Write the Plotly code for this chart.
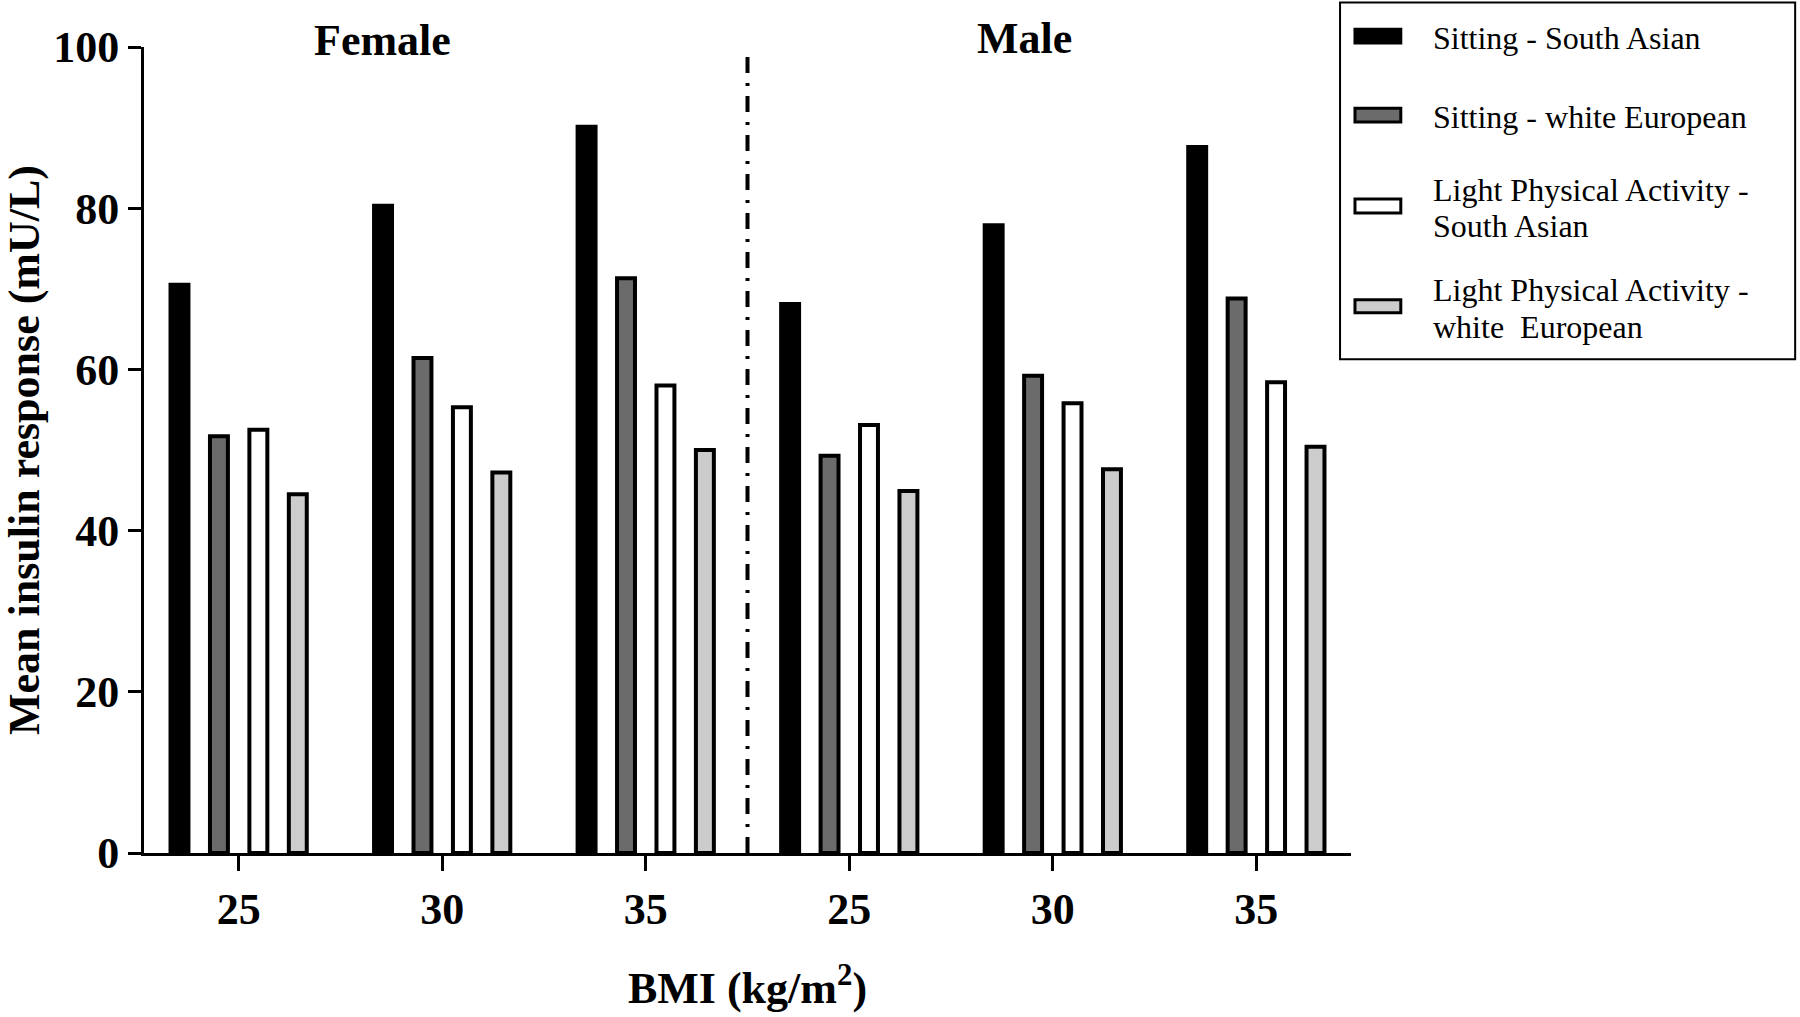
import plotly.graph_objects as go

# ---- data ----
bmi_labels = ["25", "30", "35", "25", "30", "35"]
sex_groups = ["Female", "Male"]
series_names = [
    "Sitting - South Asian",
    "Sitting - white European",
    "Light Physical Activity -<br>South Asian",
    "Light Physical Activity -<br>white  European",
]
sitting_south_asian = [70.5, 80.3, 90.1, 68.1, 77.9, 87.6]
sitting_white_european = [51.7, 61.4, 71.3, 49.3, 59.2, 68.8]
lpa_south_asian = [52.5, 55.3, 58.0, 53.1, 55.8, 58.4]
lpa_white_european = [44.5, 47.2, 50.0, 44.9, 47.6, 50.4]

series_values = [sitting_south_asian, sitting_white_european, lpa_south_asian, lpa_white_european]
fill_colors = ["#000000", "#6b6b6b", "#ffffff", "#cccccc"]

FONT = "Liberation Serif"
W, H = 1800, 1017
# plot area in page pixels
L, R_EDGE, T, B_EDGE = 139, 1351, 47, 863

x_pos = list(range(len(bmi_labels)))

fig = go.Figure()
for name, vals, col in zip(series_names, series_values, fill_colors):
    fig.add_trace(go.Bar(
        x=x_pos, y=vals, name=name.replace("<br>", " "),
        marker=dict(color=col, line=dict(color="#000000", width=4)),
        showlegend=False,
    ))

# divider between sexes
fig.add_shape(type="line", xref="x", yref="y", x0=2.5, x1=2.5, y0=0, y1=100,
              line=dict(color="#000000", width=4, dash="16px,10px,3px,10px"))

def px_x(p):
    return (p - L) / (R_EDGE - L)

def px_y(p):
    return (B_EDGE - p) / (B_EDGE - T)

# group titles
for label, xc, yc in zip(sex_groups, [0.707, 3.86], [40, 38]):
    fig.add_annotation(x=xc, xref="x", y=px_y(yc), yref="paper", text=label,
                       showarrow=False, xanchor="center", yanchor="middle",
                       font=dict(family=FONT, size=44, color="#000000", weight="bold"))

# custom legend
fig.add_shape(type="rect", xref="paper", yref="paper",
              x0=px_x(1340), x1=px_x(1797), y0=px_y(363), y1=px_y(2),
              line=dict(color="#000000", width=2), fillcolor="rgba(0,0,0,0)")
sw_rows = [(28, 44), (108, 124), (200, 216), (302, 317)]
txt_rows = [[38], [118], [192, 228], [293, 330]]
for name, col, (ya, yb), tys in zip(series_names, fill_colors, sw_rows, txt_rows):
    fig.add_shape(type="rect", xref="paper", yref="paper",
                  x0=px_x(1355), x1=px_x(1401), y0=px_y(yb - 1), y1=px_y(ya + 1),
                  line=dict(color="#000000", width=3), fillcolor=col)
    for line_text, ty in zip(name.split("<br>"), tys):
        fig.add_annotation(x=px_x(1431), y=px_y(ty), xref="paper", yref="paper",
                           text=line_text, showarrow=False, xanchor="left", yanchor="middle",
                           align="left",
                           font=dict(family=FONT, size=32, color="#000000"))

fig.update_layout(
    width=W, height=H,
    margin=dict(l=L, r=W - R_EDGE, t=T, b=H - B_EDGE, pad=0),
    plot_bgcolor="#ffffff", paper_bgcolor="#ffffff",
    barmode="group", bargap=0.225, bargroupgap=0.545,
    font=dict(family=FONT, color="#000000"),
)
fig.update_xaxes(
    range=[-0.465, 5.465], tickmode="array", tickvals=x_pos, ticktext=bmi_labels,
    showline=True, linewidth=3, linecolor="#000000",
    ticks="outside", ticklen=15, tickwidth=3, tickcolor="#000000",
    showgrid=False, zeroline=False,
    tickfont=dict(family=FONT, size=44, weight="bold"),
    title=dict(text="BMI (kg/m<sup>2</sup>)", standoff=40,
               font=dict(family=FONT, size=44, weight="bold")),
)
fig.update_yaxes(
    range=[0, 100], dtick=20, tick0=0,
    showline=True, linewidth=3, linecolor="#000000",
    ticks="outside", ticklen=13, tickwidth=3, tickcolor="#000000",
    showgrid=False, zeroline=False,
    tickfont=dict(family=FONT, size=44, weight="bold"),
    title=dict(text="Mean insulin response (mU/L)", standoff=10,
               font=dict(family=FONT, size=44, weight="bold")),
)

page_css = (
    "document.documentElement.style.margin='0';"
    "document.documentElement.style.overflow='hidden';"
    "document.body.style.margin='0';"
    "document.body.style.overflow='hidden';"
)
fig.write_html("out.html", post_script=page_css, config={"displayModeBar": False})
